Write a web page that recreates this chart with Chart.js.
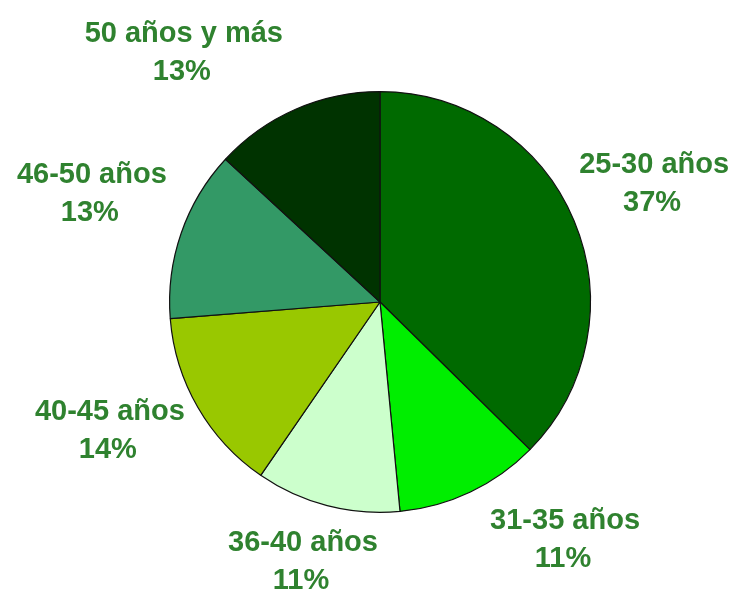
<!DOCTYPE html>
<html>
<head>
<meta charset="utf-8">
<script src="https://cdn.jsdelivr.net/npm/chart.js@4/dist/chart.umd.min.js"></script>
<style>
  html, body { margin: 0; padding: 0; background: #ffffff; }
  #wrap { width: 740px; height: 606px; position: relative; }
</style>
</head>
<body>
<div id="wrap"><canvas id="c" width="740" height="606"></canvas></div>
<script>
// ---- data ----
const categories = ['25-30 años', '31-35 años', '36-40 años', '40-45 años', '46-50 años', '50 años y más'];
const percentValues = [37, 11, 11, 14, 13, 13];
const percentLabels = ['37%', '11%', '11%', '14%', '13%', '13%'];

// ---- style ----
const sliceColors = ['#006a00', '#00ee00', '#ccffcc', '#99c800', '#339966', '#003300'];
// label placement: angle shift (deg) from slice mid-angle and radial distance factor
const labelAngleShift = [-0.7, -12.5, 2, 4.7, 1.7, -14.5];
const labelRadiusFactor = [1.42, 1.43, 1.285, 1.42, 1.465, 1.51];
const labelColor = '#2f822f';
const labelFont = 'bold 29px "Liberation Sans", Arial, sans-serif';

const outsideLabels = {
  id: 'outsideLabels',
  afterDatasetsDraw(chart) {
    const ctx = chart.ctx;
    const meta = chart.getDatasetMeta(0);
    ctx.save();
    ctx.font = labelFont;
    ctx.fillStyle = labelColor;
    ctx.textAlign = 'center';
    ctx.textBaseline = 'middle';
    meta.data.forEach((arc, i) => {
      const p = arc.getProps(['x', 'y', 'startAngle', 'endAngle', 'outerRadius'], true);
      const mid = (p.startAngle + p.endAngle) / 2 + labelAngleShift[i] * Math.PI / 180;
      const r = p.outerRadius * labelRadiusFactor[i];
      const lx = p.x + Math.cos(mid) * r;
      const ly = p.y + Math.sin(mid) * r;
      ctx.fillText(categories[i], lx, ly - 18);
      ctx.fillText(percentLabels[i], lx - 2, ly + 20);
    });
    ctx.restore();
  }
};

new Chart(document.getElementById('c'), {
  type: 'pie',
  data: {
    labels: categories,
    datasets: [{
      data: percentValues,
      backgroundColor: sliceColors,
      borderColor: '#111111',
      borderWidth: 1.2
    }]
  },
  options: {
    responsive: false,
    animation: false,
    layout: { padding: { top: 91, bottom: 93, left: 169, right: 149 } },
    plugins: {
      legend: { display: false },
      tooltip: { enabled: false }
    }
  },
  plugins: [outsideLabels]
});
</script>
</body>
</html>
